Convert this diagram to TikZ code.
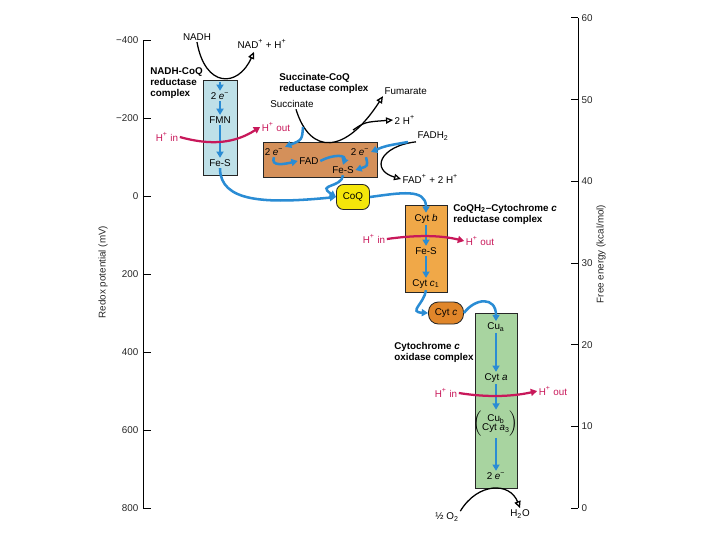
\documentclass[tikz,border=0pt]{standalone}
\usepackage{fontspec}
\setmainfont{Liberation Sans}
\usetikzlibrary{arrows.meta, positioning, calc}

\definecolor{eblue}{HTML}{2A8CD4}
\definecolor{hred}{HTML}{C8185A}
\definecolor{nadhfill}{HTML}{BEE0E8}
\definecolor{succfill}{HTML}{D4905A}
\definecolor{bcfill}{HTML}{F0A848}
\definecolor{cytcfill}{HTML}{E0862A}
\definecolor{coqfill}{HTML}{F5E60A}
\definecolor{oxfill}{HTML}{A8D4A0}

\begin{document}
\begin{tikzpicture}[x=0.025cm, y=-0.025cm,
    font=\fontsize{7}{7.8}\selectfont,
    cplx/.style={rectangle, draw=black!85, line width=0.6pt, inner sep=0pt},
    carrier/.style={rectangle, draw=black!85, line width=0.6pt, rounded corners=5pt, inner sep=0pt},
    inlbl/.style={inner sep=1pt, align=center},
    cname/.style={font=\fontsize{7}{7.8}\selectfont\bfseries, align=left, inner sep=0pt, anchor=north west},
    hlbl/.style={text=hred, inner sep=1pt},
    ticklbl/.style={text=black!85, inner sep=1pt},
    axline/.style={draw=black, line width=0.7pt},
    eflow/.style={-{Triangle[length=4.5pt,width=5pt]}, line width=1.8pt, draw=eblue},
    hflow/.style={-{Triangle[length=4.5pt,width=5pt]}, line width=1.6pt, draw=hred},
    chem/.style={-{Triangle[open,length=5pt,width=4.5pt]}, line width=0.9pt, draw=black}
]
\useasboundingbox (0,0) rectangle (720,540);

% axes
\draw[axline] (143,40) -- (143,508);
\foreach \v [count=\k from 0] in {−400,−200,0,200,400,600,800} {
  \draw[axline] (143,{40+78*\k}) -- ++(8,0);
  \node[ticklbl, anchor=east] (lt\k) at (140,{40+78*\k}) {\v};
}
\node[ticklbl, rotate=90] (ltitle) at (103,272) {Redox potential (mV)};

\draw[axline] (578,18) -- (578,508);
\foreach \v [count=\k from 0] in {0,10,20,30,40,50,60} {
  \draw[axline] (578,{508-81.67*\k}) -- ++(-7,0);
  \node[ticklbl, anchor=west] (rt\k) at (580,{508-81.67*\k}) {\v};
}
\node[ticklbl, rotate=90] (rtitle) at (601,254) {Free energy (kcal/mol)};

% complexes
\node[cplx, fill=nadhfill, minimum width=0.85cm, minimum height=2.375cm] (nadhbox) at (220,127.5) {};
\node[cplx, fill=succfill, minimum width=2.85cm, minimum height=0.875cm] (succbox) at (320,159.5) {};
\node[carrier, fill=coqfill, minimum width=0.825cm, minimum height=0.625cm] (coq) at (353,197) {CoQ};
\node[cplx, fill=bcfill, minimum width=1.05cm, minimum height=2.175cm] (bcbox) at (426,248.5) {};
\node[carrier, fill=cytcfill, rounded corners=7pt, minimum width=0.875cm, minimum height=0.55cm] (cytc) at (446,313) {Cyt \textit{c}};
\node[cplx, fill=oxfill, minimum width=1.05cm, minimum height=4.375cm] (oxbox) at (496,400.5) {};

\node[cname] (nadhlbl) at (150,67) {NADH-CoQ\\reductase\\complex};
\node[cname] (succlbl) at (279,73) {Succinate-CoQ\\reductase complex};
\node[cname] (bclbl) at (453,204) {CoQH\textsubscript{2}–Cytochrome \textit{c}\\reductase complex};
\node[cname] (oxlbl) at (394,342) {Cytochrome \textit{c}\\oxidase complex};

% NADH-CoQ reductase
\node[inlbl] (nec) at (220,96) {2 \textit{e}\textsuperscript{−}};
\node[inlbl] (fmn) at (220,120) {FMN};
\node[inlbl] (nfes) at (220,163) {Fe-S};
\coordinate (ntop) at (220,82);
\draw[eflow] (ntop) -- (nec.north);
\draw[eflow] (nec.south) -- (fmn.north);
\draw[eflow] (fmn.south) -- (nfes.north);
\node[inner sep=1pt] (nadh) at (197,37) {NADH};
\node[inner sep=1pt] (nadp) at (262,44) {NAD\textsuperscript{+} + H\textsuperscript{+}};
\draw[chem] (nadh.south) .. controls (205,88) and (238,88) .. ($(nadp.south)+(-8,2)$);
\node[hlbl] (hin1) at (167,137) {H\textsuperscript{+} in};
\node[hlbl] (hout1) at (276,127) {H\textsuperscript{+} out};
\draw[hflow] (hin1.east) .. controls (212,146) and (235,143) .. (hout1.west);

% succinate-CoQ reductase
\node[inlbl] (sec1) at (274,152) {2 \textit{e}\textsuperscript{−}};
\node[inlbl] (sfad) at (309,161) {FAD};
\node[inlbl] (sec2) at (360,152) {2 \textit{e}\textsuperscript{−}};
\node[inlbl] (sfes) at (343,170) {Fe-S};
\node[inner sep=1pt] (succ) at (292,104) {Succinate};
\node[inner sep=1pt, anchor=west] (fum) at (383,91) {Fumarate};
\node[inner sep=1pt, anchor=west] (hh) at (393,120) {2 H\textsuperscript{+}};
\node[inner sep=1pt, anchor=west] (fadh) at (416,136) {FADH\textsubscript{2}};
\node[inner sep=1pt, anchor=west] (fadp) at (401,179) {FAD\textsuperscript{+} + 2 H\textsuperscript{+}};
\draw[chem] ($(succ.south)+(4,0)$) .. controls (310,155) and (345,155) .. (fum.south west);
\coordinate (fbranch) at (353,130);
\draw[chem] (fbranch) .. controls (365,122) .. (hh.west);
\draw[chem] (fadh.south west) .. controls (380,146) and (370,170) .. (fadp.west);
\coordinate (sin) at (303,127);
\draw[eflow] (sin) .. controls (302,140) .. (sec1.north east);
\coordinate (fin) at (408,142);
\draw[eflow] (fin) .. controls (385,146) .. (sec2.east);
\draw[eflow] (sec1.south) .. controls (270,167) and (285,164) .. (sfad.west);
\draw[eflow] (sfad.east) .. controls (336,153) and (346,156) .. (sfes.north);
\draw[eflow] ($(sec2.south)+(6,0)$) .. controls (368,166) .. (sfes.east);

% to CoQ
\draw[eflow] (nfes.south) .. controls (220,202) and (265,204) .. (coq.west);
\draw[eflow] (sfes.south) .. controls (342,188) and (316,184) .. (coq.west);

% CoQH2-cytochrome c reductase
\node[inlbl] (cytb) at (426,219) {Cyt \textit{b}};
\node[inlbl] (bfes) at (426,251) {Fe-S};
\node[inlbl] (cytc1) at (426,284) {Cyt \textit{c}\textsubscript{1}};
\draw[eflow] (coq.east) .. controls (400,193) and (426,188) .. (cytb.north);
\draw[eflow] (cytb.south) -- (bfes.north);
\draw[eflow] (bfes.south) -- (cytc1.north);
\node[hlbl] (hin2) at (374,239) {H\textsuperscript{+} in};
\node[hlbl] (hout2) at (480,241) {H\textsuperscript{+} out};
\draw[hflow] (hin2.east) .. controls (415,235) and (440,235) .. (hout2.west);
\draw[eflow] (cytc1.south) .. controls (424,304) and (408,312) .. (cytc.west);

% cytochrome c oxidase
\node[inlbl] (cua) at (496,327) {Cu\textsubscript{a}};
\node[inlbl] (cyta) at (496,378) {Cyt \textit{a}};
\node[inlbl] (cub) at (496,424) {$\left(\mbox{\begin{tabular}{@{}c@{}}Cu\textsubscript{b}\\[-1pt]Cyt \textit{a}\textsubscript{3}\end{tabular}}\right)$};
\node[inlbl] (oxe) at (496,476) {2 \textit{e}\textsuperscript{−}};
\draw[eflow] (cytc.east) .. controls (475,298) and (496,296) .. (cua.north);
\draw[eflow] (cua.south) -- (cyta.north);
\draw[eflow] (cyta.south) -- (cub.north);
\draw[eflow] (cub.south) -- (oxe.north);
\node[hlbl] (hin3) at (446,393) {H\textsuperscript{+} in};
\node[hlbl] (hout3) at (553,391) {H\textsuperscript{+} out};
\draw[hflow] (hin3.east) .. controls (490,398) and (515,396) .. (hout3.west);
\node[inner sep=1pt] (o2) at (447,517) {½ O\textsubscript{2}};
\node[inner sep=1pt] (h2o) at (520,514) {H\textsubscript{2}O};
\draw[chem] (o2.north east) .. controls (478,482) and (510,482) .. (h2o.north);
\end{tikzpicture}
\end{document}
